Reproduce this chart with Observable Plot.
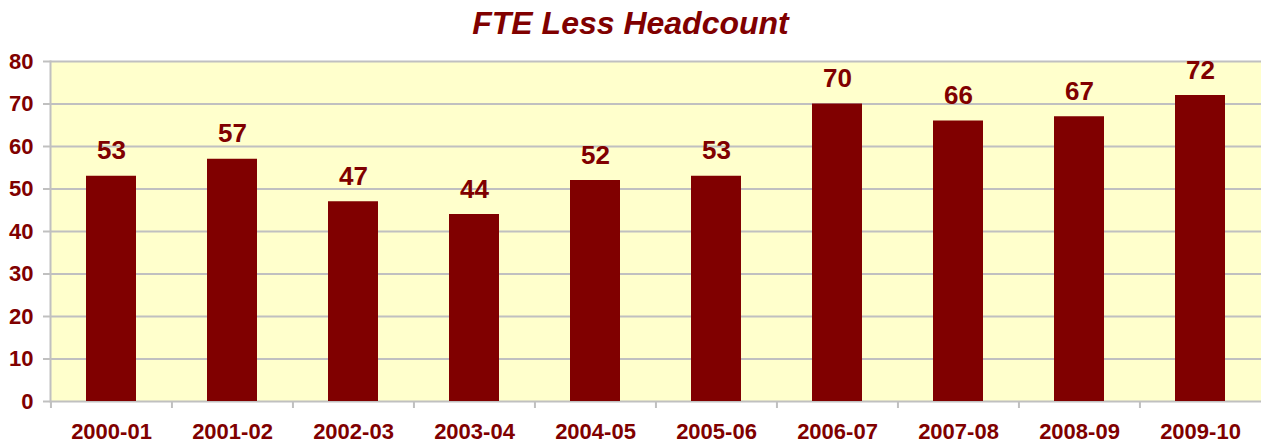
<!DOCTYPE html>
<html>
<head>
<meta charset="utf-8">
<script src="https://cdn.jsdelivr.net/npm/d3@7"></script>
<script src="https://cdn.jsdelivr.net/npm/@observablehq/plot@0.6"></script>
<style>
  html, body { margin: 0; padding: 0; background: #ffffff; }
  #title {
    box-sizing: border-box;
    width: 1261px; height: 42px;
    padding-top: 7px;
    font-family: "Liberation Sans", Arial, sans-serif;
    font-size: 32px; font-weight: bold; font-style: italic;
    line-height: 1;
    color: #800000; text-align: center;
  }
</style>
</head>
<body>
<div id="title">FTE Less Headcount</div>
<div id="chart"></div>
<script>
const categories = ["2000-01","2001-02","2002-03","2003-04","2004-05","2005-06","2006-07","2007-08","2008-09","2009-10"];
const values = [53, 57, 47, 44, 52, 53, 70, 66, 67, 72];
const yTicks = [0, 10, 20, 30, 40, 50, 60, 70, 80];

const data = categories.map((c, i) => ({year: c, value: values[i]}));

const W = 1261, H = 402;
const mL = 50, mR = 0, mT = 19, mB = 43;
const step = (W - mL - mR) / categories.length;
const pInner = 0.587;

const font = '"Liberation Sans", Arial, sans-serif';
const red = "#800000";
const gray = "#C0C0C0";

const chart = Plot.plot({
  width: W, height: H,
  marginLeft: mL, marginRight: mR, marginTop: mT, marginBottom: mB,
  style: {fontFamily: font, background: "transparent", overflow: "visible"},
  x: {domain: categories, paddingInner: pInner, paddingOuter: pInner / 2, label: null},
  y: {domain: [0, 80], label: null},
  marks: [
    Plot.frame({fill: "#FFFFCC", stroke: null}),
    Plot.gridY(yTicks, {stroke: gray, strokeOpacity: 1, strokeWidth: 2}),
    Plot.frame({anchor: "left", stroke: gray, strokeWidth: 2, strokeOpacity: 1}),
    Plot.axisY(yTicks, {
      tickSize: 7, tickPadding: 10, stroke: gray, strokeWidth: 2, strokeOpacity: 1,
      fill: red, fontSize: 22, fontWeight: "bold", label: null
    }),
    Plot.axisX({
      tickSize: 7, tickFormat: () => "", dx: -step / 2,
      stroke: gray, strokeWidth: 2, strokeOpacity: 1, label: null
    }),
    Plot.axisX({
      tickSize: 0, tickPadding: 22, fill: red, fontSize: 22, fontWeight: "bold", label: null
    }),
    Plot.barY(data, {x: "year", y: "value", fill: red}),
    Plot.text(data, {
      x: "year", y: "value", text: d => String(d.value),
      lineAnchor: "bottom", dy: -17,
      fill: red, fontSize: 26, fontWeight: "bold"
    })
  ]
});
document.getElementById("chart").appendChild(chart);
</script>
</body>
</html>
